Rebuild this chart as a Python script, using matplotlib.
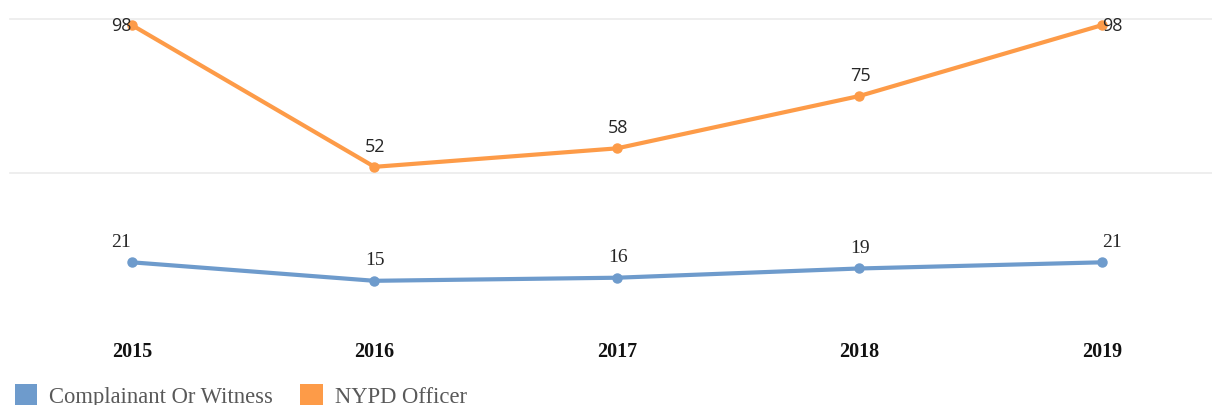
import matplotlib
matplotlib.use("Agg")
import matplotlib.pyplot as plt
from matplotlib.patches import Patch

years = ["2015", "2016", "2017", "2018", "2019"]
complainant_or_witness = [21, 15, 16, 19, 21]
nypd_officer = [98, 52, 58, 75, 98]

series_names = ["Complainant Or Witness", "NYPD Officer"]
series_colors = ["#6e9bcc", "#fd9b48"]

DPI = 100
fig = plt.figure(figsize=(12.12, 4.06), dpi=DPI)
ax = fig.add_axes([10 / 1212, 1 - 328 / 406, 1 - 10 / 1212, (328 - 20) / 406])

x = list(range(len(years)))
ymax = 100
ax.set_ylim(0, ymax)
ax.set_xlim(-0.503, 4.454)

# light horizontal guides
for gy in (50, 100):
    ax.axhline(gy, color="#ebebeb", lw=1.2, zorder=0, clip_on=False)

serif = ["Liberation Serif", "DejaVu Serif"]
sans = ["Open Sans", "DejaVu Sans"]

n = len(years)
for vals, color, label_font, label_size in (
    (complainant_or_witness, series_colors[0], serif, 14),
    (nypd_officer, series_colors[1], sans, 13),
):
    ax.plot(x, vals, color=color, lw=3, marker="o", ms=6.5,
            solid_capstyle="round", clip_on=False, zorder=3)
    for i, v in enumerate(vals):
        # end labels lean outward so they stay inside the frame
        dx = -11 if i == 0 else (10 if i == n - 1 else 1)
        dy = 0 if v > ymax - 8 else 21
        ax.annotate(str(v), (i, v), xytext=(dx, dy), textcoords="offset pixels",
                    ha="center", va="center", fontsize=label_size,
                    family=label_font, color="#262626", zorder=4)

ax.set_xticks(x)
ax.set_xticklabels(years, fontsize=14.5, fontweight="bold", family=serif,
                   color="#111111")
ax.tick_params(axis="x", length=0, pad=10)
ax.set_yticks([])
for s in ax.spines.values():
    s.set_visible(False)

handles = [Patch(facecolor=c, edgecolor="none") for c in series_colors]
fig.legend(handles, series_names, loc="lower left",
           bbox_to_anchor=(8 / 1212, -9 / 406), ncol=2, frameon=False,
           prop={"family": serif, "size": 16.3}, labelcolor="#595959",
           handlelength=1.0, handleheight=1.0, handletextpad=0.53,
           columnspacing=1.2, borderaxespad=0, borderpad=0.3)

fig.savefig("out.png", dpi=DPI)
